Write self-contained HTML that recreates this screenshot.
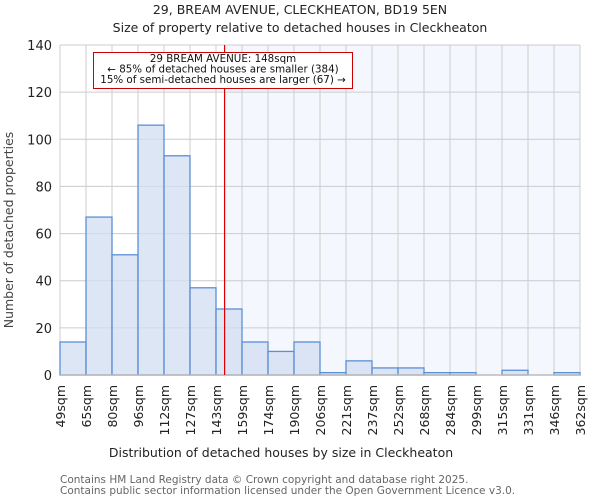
<!DOCTYPE html>
<html><head><meta charset="utf-8"><style>
body{margin:0;background:#fff;font-family:"DejaVu Sans","Liberation Sans",sans-serif}
</style></head><body>
<svg width="600" height="500" xmlns="http://www.w3.org/2000/svg" font-family="DejaVu Sans, Liberation Sans, sans-serif">
<text x="300" y="14" text-anchor="middle" font-size="12.5" fill="#222">29, BREAM AVENUE, CLECKHEATON, BD19 5EN</text>
<text x="300" y="32" text-anchor="middle" font-size="12.5" fill="#222">Size of property relative to detached houses in Cleckheaton</text>
<g id="plot"></g>
<text x="281" y="457" text-anchor="middle" font-size="12.5" fill="#222">Distribution of detached houses by size in Cleckheaton</text>
<text transform="translate(13,230) rotate(-90)" text-anchor="middle" font-size="12.5" fill="#444">Number of detached properties</text>
<text x="60" y="483" font-size="10.5" fill="#666">Contains HM Land Registry data © Crown copyright and database right 2025.</text>
<text x="60" y="494" font-size="10.5" fill="#666">Contains public sector information licensed under the Open Government Licence v3.0.</text>
</svg>
<script>
const binLabels=["49sqm","65sqm","80sqm","96sqm","112sqm","127sqm","143sqm","159sqm","174sqm","190sqm","206sqm","221sqm","237sqm","252sqm","268sqm","284sqm","299sqm","315sqm","331sqm","346sqm","362sqm"];
const counts=[14,67,51,106,93,37,28,14,10,14,1,6,3,3,1,1,0,2,0,1];
const yTicks=[0,20,40,60,80,100,120,140];
const markerBin=6.33;
const NS="http://www.w3.org/2000/svg";
const g=document.getElementById('plot');
const L=60,R=580,T=45,B=375,yMax=140;
const bw=(R-L)/counts.length;
const xs=i=>L+i*bw;
const ys=v=>B-v*(B-T)/yMax;
function mk(t,a){const e=document.createElementNS(NS,t);for(const k in a)e.setAttribute(k,a[k]);g.appendChild(e);return e;}
const mx=xs(markerBin);
let bg=mk('rect',{x:mx,y:T,width:R-mx,height:B-T,fill:'#f4f7fd'});


yTicks.forEach(v=>{
 let l=mk('line',{x1:L,x2:R,y1:ys(v),y2:ys(v),stroke:'#ccc'});
 
 
 let t=mk('text',{x:L-8,y:ys(v)+5,'text-anchor':'end','font-size':'13',fill:'#222'});
 t.textContent=v;
 
 
});
binLabels.forEach((s,i)=>{
 let l=mk('line',{x1:xs(i),x2:xs(i),y1:T,y2:B,stroke:'#ccc'});
 
 
 let t=mk('text',{transform:`translate(${xs(i)+5},385) rotate(-90)`,'text-anchor':'end','font-size':'12.5',fill:'#222'});
 t.textContent=s;
 
 
});
counts.forEach((c,i)=>{
 let r=mk('rect',{x:xs(i),y:ys(c),width:bw,height:B-ys(c),fill:'rgba(210,222,242,0.75)',stroke:'#5b8fd6','stroke-width':1.3});
 
 
});
let ax=mk('line',{x1:L,x2:R,y1:B,y2:B,stroke:'#bbb','stroke-width':1.5});


let ml=mk('line',{x1:mx,x2:mx,y1:T,y2:B,stroke:'#d00','stroke-width':1.2});


let box=mk('rect',{x:93.5,y:52.5,width:259,height:36,fill:'#fff',stroke:'#c00'});


["29 BREAM AVENUE: 148sqm","← 85% of detached houses are smaller (384)","15% of semi-detached houses are larger (67) →"].forEach((s,i)=>{
 let t=mk('text',{x:223,y:62+i*10.5,'text-anchor':'middle','font-size':'10.3',fill:'#111'});
 t.textContent=s;
 
 
});
</script>
</body></html>
